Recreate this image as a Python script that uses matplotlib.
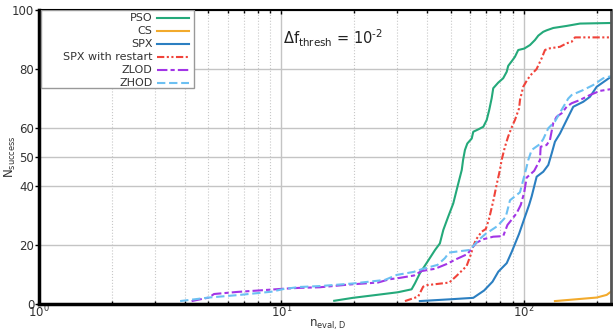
import matplotlib
matplotlib.use("Agg")
import matplotlib.pyplot as plt
from matplotlib.patches import Rectangle
import numpy as np

# Cumulative number of successful runs versus evaluations (per dimension)
pso_x = [16.5, 19.7, 24.7, 30.2, 34.4, 35.5, 37.2, 40.3, 43.0, 45.0, 46.5, 48.7, 51.1, 53.6,
         55.4, 56.1, 57.1, 58.4, 60.9, 61.8, 64.8, 68.0, 70.2, 71.9, 73.6, 74.7, 78.3, 82.1,
         84.9, 86.1, 89.8, 91.8, 94.7, 100.3, 105.9, 111.0, 114.6, 120.1, 124.0, 132.1, 150.0,
         170.2, 228.5]
pso_y = [1.1, 2.1, 3.1, 4.0, 5.0, 7.0, 10.4, 14.8, 18.4, 20.6, 25.2, 29.7, 34.2, 41.0,
         45.6, 49.0, 52.4, 54.6, 56.3, 58.6, 59.4, 60.3, 62.6, 66.0, 70.0, 73.4, 75.3, 76.8,
         79.0, 81.0, 83.0, 84.1, 86.4, 86.9, 88.1, 89.8, 91.3, 92.6, 93.1, 93.9, 94.6,
         95.4, 95.6]

cs_x = [134.2, 199.5, 219.3, 228.5]
cs_y = [1.0, 2.2, 3.1, 4.2]

spx_x = [37.2, 49.5, 61.8, 68.5, 74.2, 78.4, 84.9, 89.0, 95.5, 100.2, 105.1, 107.6, 112.8,
         120.1, 126.0, 130.1, 134.2, 140.8, 150.0, 159.7, 175.6, 187.2, 199.5, 228.5]
spx_y = [1.0, 1.6, 2.1, 4.6, 7.6, 11.0, 13.9, 17.7, 23.9, 28.9, 33.8, 36.6, 43.3,
         45.0, 47.3, 51.2, 55.2, 58.0, 62.6, 67.1, 68.8, 70.5, 73.9, 77.3]

spxr_x = [32.3, 36.6, 38.4, 39.7, 49.2, 52.3, 58.0, 60.3, 61.8, 63.3, 66.9, 69.6, 71.8, 74.7,
          77.1, 79.6, 80.9, 83.5, 86.1, 89.8, 91.8, 95.5, 96.3, 99.3, 103.4, 107.5, 112.7,
          118.3, 122.1, 126.0, 140.8, 150.0, 157.3, 162.3, 228.5]
spxr_y = [1.0, 2.5, 5.9, 6.4, 7.3, 9.3, 12.9, 16.7, 19.6, 21.8, 24.6, 25.5, 29.0, 35.0,
          40.5, 45.6, 49.0, 53.5, 57.0, 60.9, 62.6, 66.6, 69.4, 73.9, 76.4, 78.2, 79.9,
          83.6, 86.4, 86.9, 87.5, 88.7, 89.2, 90.7, 90.7]

zlod_x = [4.26, 5.02, 5.27, 6.55, 8.71, 10.2, 11.9, 14.4, 19.5, 25.0, 27.8, 30.8, 35.2, 37.8,
          43.0, 48.0, 52.4, 58.5, 61.3, 63.8, 68.4, 74.7, 82.1, 85.5, 89.0, 93.3, 97.0,
          100.2, 102.6, 110.2, 116.4, 117.2, 124.0, 128.0, 132.1, 136.4, 143.1, 150.0,
          157.3, 170.2, 187.2, 205.8, 228.5]
zlod_y = [1.0, 2.2, 3.4, 4.1, 4.8, 5.2, 5.5, 5.7, 6.7, 7.3, 8.4, 8.9, 9.7, 11.2,
          12.0, 13.6, 15.2, 17.0, 19.3, 20.9, 22.1, 22.9, 23.1, 26.9, 28.7, 30.9, 33.7,
          37.9, 43.0, 45.3, 49.0, 53.5, 54.1, 55.8, 61.6, 63.7, 64.9, 67.1,
          68.3, 69.4, 71.1, 72.5, 73.1]

zhod_x = [3.82, 5.02, 6.74, 9.11, 10.2, 11.9, 14.4, 19.8, 26.7, 29.9, 35.0, 38.4, 44.0, 47.2,
          49.1, 59.9, 64.8, 69.6, 77.7, 84.1, 87.6, 96.3, 99.3, 102.1, 104.2, 107.6, 116.4,
          120.1, 126.0, 134.2, 143.1, 152.3, 157.3, 175.6, 193.1, 212.3, 228.5]
zhod_y = [1.0, 2.2, 3.1, 4.2, 5.1, 5.8, 6.1, 7.0, 8.2, 9.9, 10.9, 12.0, 13.3, 15.6,
          17.5, 18.4, 21.7, 23.9, 26.5, 29.6, 35.3, 38.0, 42.2, 46.0, 49.0, 52.4, 54.4,
          56.1, 59.8, 62.1, 66.1, 69.9, 71.1, 72.8, 74.5, 76.8, 77.5]

y_ticks = [0, 20, 40, 50, 60, 80, 100]

fig = plt.figure(figsize=(6.13, 3.35), dpi=100)
ax = fig.add_axes([0.0636, 0.0925, 0.9331, 0.8775])

lw = 1.5
ax.plot(pso_x, pso_y, color="#24a97a", lw=lw, label="PSO")
ax.plot(cs_x, cs_y, color="#f2aa2c", lw=lw, label="CS")
ax.plot(spx_x, spx_y, color="#2b7fc1", lw=lw, label="SPX")
ax.plot(spxr_x, spxr_y, color="#f0433a", lw=lw, dashes=(3.5, 1.2, 1, 1.2, 1, 1.2),
        label="SPX with restart")
ax.plot(zlod_x, zlod_y, color="#a235e6", lw=lw, dashes=(5, 1.5, 2, 1.5), label="ZLOD")
ax.plot(zhod_x, zhod_y, color="#6cc0f2", lw=lw, dashes=(4, 1.8), label="ZHOD")

ax.set_xscale("log")
ax.set_xlim(1, 228.5)
ax.set_ylim(0, 100)
ax.set_yticks(y_ticks)

ax.grid(True, which="major", axis="both", color="#c4c4c4", lw=1.0, ls="-")
ax.grid(True, which="minor", axis="x", color="#c8c8c8", lw=0.8, ls=":")
ax.set_axisbelow(True)

ax.tick_params(axis="x", which="both", direction="in", top=True, bottom=True,
               length=3, width=1, colors="black", labelcolor="#333333", labelsize=8.5,
               pad=0)
ax.tick_params(axis="x", which="minor", length=2)
ax.tick_params(axis="y", which="major", direction="out", length=3, width=1,
               labelcolor="#333333", labelsize=8.5, pad=0.5)

for side, w, c in [("left", 2.5, "black"), ("bottom", 2.5, "black"),
                   ("top", 1.5, "black"), ("right", 2.0, "#555555")]:
    ax.spines[side].set_linewidth(w)
    ax.spines[side].set_color(c)

ax.set_ylabel(r"N$_{\mathregular{success}}$", color="#333333", fontsize=8.5, labelpad=0)
ax.yaxis.set_label_coords(-0.037, 0.5)
ax.set_xlabel(r"n$_{\mathregular{eval,D}}$", color="#333333", fontsize=8.5, labelpad=0)
ax.xaxis.set_label_coords(0.505, -0.045)
ax.xaxis.label.set_va("top")

ax.text(0.427, 0.905, r"$\Delta$f$_{\mathregular{thresh}}$ = 10$^{\mathregular{\text{-}2}}$",
        transform=ax.transAxes, fontsize=10.5, ha="left", va="center", color="#222222")

# legend box: a plain white frame with the entries right-aligned inside it
box_x0, box_x1, box_y0, box_y1 = 0.0035, 0.271, 0.735, 1.0
ax.add_patch(Rectangle((box_x0, box_y0), box_x1 - box_x0, box_y1 - box_y0,
                       transform=ax.transAxes, facecolor="white", edgecolor="#999999",
                       lw=1.0, zorder=4.5))
leg = ax.legend(loc="upper right", bbox_to_anchor=(box_x1 - 0.004, box_y1 - 0.004),
                markerfirst=False, fontsize=8, frameon=False,
                borderaxespad=0.0, handlelength=2.9, labelspacing=0.27,
                borderpad=0.2, handletextpad=0.45)
leg.set_zorder(5)
for t in leg.get_texts():
    t.set_color("#333333")

fig.savefig("out.png", dpi=100)
